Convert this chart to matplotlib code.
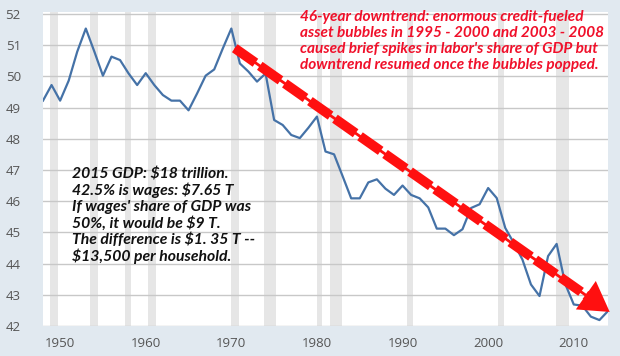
import numpy as np
import matplotlib.pyplot as plt

# labor share of GDP (percent), annual
years = list(range(1948, 2015))
share = [49.22, 49.72, 49.22, 49.86, 50.79, 51.53, 50.79, 50.02, 50.63, 50.52,
         50.09, 49.72, 50.10, 49.72, 49.40, 49.22, 49.22, 48.91, 49.45, 50.02,
         50.22, 50.89, 51.53, 50.41, 50.15, 49.83, 50.09, 48.60, 48.44, 48.12,
         48.02, 48.35, 48.71, 47.59, 47.50, 46.80, 46.09, 46.09, 46.60, 46.70,
         46.40, 46.20, 46.50, 46.20, 46.09, 45.80, 45.12, 45.12, 44.91, 45.10,
         45.78, 45.90, 46.42, 46.10, 45.14, 44.66, 44.13, 43.33, 42.96, 44.24,
         44.63, 43.35, 42.69, 42.65, 42.30, 42.19, 42.48]

# NBER recessions (start, end) as fractional years
recessions = [(1948.85, 1949.8), (1953.5, 1954.4), (1957.6, 1958.3),
              (1960.3, 1961.15), (1969.95, 1970.9), (1973.85, 1975.2),
              (1980.0, 1980.55), (1981.55, 1982.9), (1990.55, 1991.25),
              (2001.2, 2001.9), (2007.95, 2009.5)]

yticks = list(range(42, 53))
xticks = [1950, 1960, 1970, 1980, 1990, 2000, 2010]

# trend arrow endpoints (year, value)
trend_start = (1970.4, 50.9)
trend_end = (2014.2, 42.45)

red_note = ("46-year downtrend: enormous credit-fueled\n"
            "asset bubbles in 1995 - 2000 and 2003 - 2008\n"
            "caused brief spikes in labor's share of GDP but\n"
            "downtrend resumed once the bubbles popped.")
black_note = ("2015 GDP: $18 trillion.\n"
              "42.5% is wages: $7.65 T\n"
              "If wages' share of GDP was\n"
              "50%, it would be $9 T.\n"
              "The difference is $1. 35 T --\n"
              "$13,500 per household.")

bg = "#e1e9f0"
fig = plt.figure(figsize=(6.2, 3.56), dpi=100, facecolor=bg)
ax = fig.add_axes([43 / 620, 1 - 326 / 356, 565 / 620, 314 / 356])
ax.set_facecolor("white")

for s, e in recessions:
    ax.axvspan(s, e, color="#e6e6e6", lw=0, zorder=0)

ax.set_xlim(1948, 2014)
ax.set_ylim(42, 52.06)
ax.set_yticks(yticks)
ax.set_xticks(xticks)
ax.grid(axis="y", color="#c8c8c8", lw=1.0, zorder=1)
for sp in ax.spines.values():
    sp.set_visible(False)
ax.tick_params(axis="y", length=0, pad=16, labelsize=9.5, labelcolor="#555555")
ax.tick_params(axis="x", length=0, pad=8, labelsize=9.5, labelcolor="#555555")
for lab in ax.get_xticklabels() + ax.get_yticklabels():
    lab.set_family("Open Sans")

ax.plot(years, share, color="#4572a7", lw=1.6, zorder=3)

# dashed trend arrow
shaft_end = (trend_end[0] - 2.6, trend_end[1] + 0.5)
ax.plot([trend_start[0], shaft_end[0]], [trend_start[1], shaft_end[1]],
        color="#ff1010", lw=2, zorder=4, solid_capstyle="butt")
ax.plot([trend_start[0], shaft_end[0]], [trend_start[1], shaft_end[1]],
        color="#ff1010", lw=7, zorder=4, dashes=(2.6, 0.55), dash_capstyle="butt")
ax.annotate("", xy=trend_end, xytext=(trend_end[0] - 4.0, trend_end[1] + 0.77),
            arrowprops=dict(arrowstyle="-|>,head_length=2.1,head_width=1.25",
                            color="#ff1010", lw=0, shrinkA=0, shrinkB=0),
            zorder=5, annotation_clip=False)

tfont = ["Lato", "DejaVu Sans"]
fig.text(300 / 620, 1 - 10 / 356, red_note, color="#f0102a", fontsize=11.1,
         family=tfont, weight="bold", style="italic", va="top", ha="left",
         linespacing=1.17)
fig.text(72 / 620, 1 - 167 / 356, black_note, color="#111111", fontsize=11.3,
         family=tfont, weight="bold", style="italic", va="top", ha="left",
         linespacing=1.15)

fig.savefig("out.png", dpi=100, facecolor=bg)
